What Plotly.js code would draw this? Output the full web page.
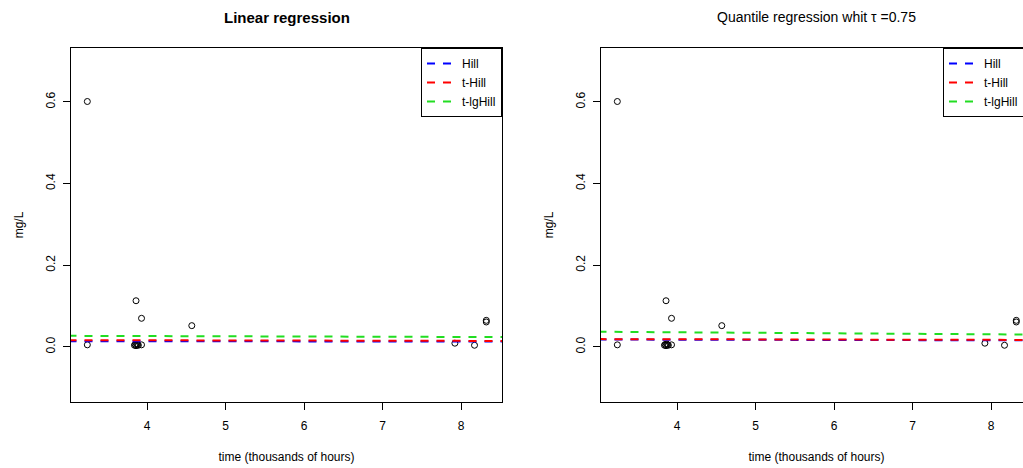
<!DOCTYPE html>
<html>
<head>
<meta charset="utf-8">
<script src="https://cdn.plot.ly/plotly-3.0.1.min.js"></script>
<style>
html, body { margin: 0; padding: 0; overflow: hidden; background: #fff; }
#chart { width: 1100px; height: 468px; }
</style>
</head>
<body>
<div id="chart"></div>
<script>
// Observations (time in thousands of hours, concentration mg/L)
const obsTime = [3.24, 3.24, 3.86, 3.93, 4.57, 3.84, 3.85, 3.86, 3.87, 3.88, 3.89, 3.93, 7.92, 8.17, 8.32, 8.32];
const obsConc = [0.601, 0.005, 0.113, 0.070, 0.052, 0.004, 0.006, 0.003, 0.007, 0.005, 0.004, 0.005, 0.009, 0.004, 0.065, 0.061];

// Fitted lines evaluated at the two ends of the time range
const fitX = [3.0, 8.6];
const linHill   = [0.014, 0.013];
const linTHill  = [0.0165, 0.0145];
const linTlgHill = [0.027, 0.024];
const qHill     = [0.018, 0.016];
const qTHill    = [0.019, 0.017];
const qTlgHill  = [0.037, 0.030];

const seriesNames = ['Hill', 't-Hill', 't-lgHill'];
const seriesColors = ['#0000ff', '#ff0000', '#22dd22'];

const xTicks = [4, 5, 6, 7, 8];
const yTicks = [0, 0.2, 0.4, 0.6];
const yTickText = ['0.0', '0.2', '0.4', '0.6'];

const FONT = 'Liberation Sans, Arial, sans-serif';

function lineTrace(y, i, xa, ya, leg) {
  return {
    x: fitX, y: y, xaxis: xa, yaxis: ya, mode: 'lines', type: 'scatter',
    name: seriesNames[i], legend: leg,
    line: { color: seriesColors[i], width: 2, dash: '8px,8px' },
    hoverinfo: 'skip'
  };
}
function pointsTrace(xa, ya) {
  return {
    x: obsTime, y: obsConc, xaxis: xa, yaxis: ya, mode: 'markers', type: 'scatter',
    showlegend: false,
    marker: { symbol: 'circle-open', size: 6, color: '#000', line: { width: 1, color: '#000' } }
  };
}

const traces = [
  pointsTrace('x', 'y'),
  lineTrace(linHill, 0, 'x', 'y', 'legend'),
  lineTrace(linTHill, 1, 'x', 'y', 'legend'),
  lineTrace(linTlgHill, 2, 'x', 'y', 'legend'),
  pointsTrace('x2', 'y2'),
  lineTrace(qHill, 0, 'x2', 'y2', 'legend2'),
  lineTrace(qTHill, 1, 'x2', 'y2', 'legend2'),
  lineTrace(qTlgHill, 2, 'x2', 'y2', 'legend2')
];

const W = 1100;
const mL = 71, mR = W - 1032;
const plotW = W - mL - mR;
const d1 = [0, 431 / plotW];
const d2 = [530 / plotW, 1];

function xAxis(domain, anchor) {
  return {
    domain: domain, anchor: anchor, range: [3.032, 8.52],
    tickmode: 'array', tickvals: xTicks, ticktext: xTicks.map(String),
    ticks: 'outside', ticklen: 7, tickcolor: '#000', tickwidth: 1, ticklabelstandoff: 6,
    showline: true, mirror: true, linecolor: '#000', linewidth: 1,
    showgrid: false, zeroline: false,
    tickfont: { family: FONT, size: 12, color: '#000' },
    title: { text: 'time (thousands of hours)', font: { family: FONT, size: 12, color: '#000' }, standoff: 20 }
  };
}
function yAxis(anchor) {
  return {
    anchor: anchor, range: [-0.135, 0.732], domain: [0, 1],
    tickmode: 'array', tickvals: yTicks, ticktext: yTickText, tickangle: -90,
    ticks: 'outside', ticklen: 7, tickcolor: '#000', tickwidth: 1, ticklabelstandoff: 3,
    showline: true, mirror: true, linecolor: '#000', linewidth: 1,
    showgrid: false, zeroline: false,
    tickfont: { family: FONT, size: 12, color: '#000' },
    title: { text: 'mg/L', font: { family: FONT, size: 12, color: '#000' }, standoff: 18 }
  };
}

const legendBase = {
  y: 1, yanchor: 'top', bgcolor: '#fff', bordercolor: '#000', borderwidth: 1,
  font: { family: FONT, size: 12, color: '#000' }, itemwidth: 30, tracegroupgap: 0
};

const layout = {
  width: W, height: 468,
  margin: { l: mL, r: mR, t: 48, b: 66, pad: 0 },
  paper_bgcolor: '#fff', plot_bgcolor: '#fff',
  font: { family: FONT, size: 12, color: '#000' },
  showlegend: true,
  xaxis: xAxis(d1, 'y'),
  yaxis: yAxis('x'),
  xaxis2: xAxis(d2, 'y2'),
  yaxis2: yAxis('x2'),
  legend: Object.assign({}, legendBase, { x: d1[1], xanchor: 'right' }),
  legend2: Object.assign({}, legendBase, { x: (943 - mL) / plotW, xanchor: 'left' }),
  annotations: [
    { text: '<b>Linear regression</b>', xref: 'paper', yref: 'paper', x: (d1[0] + d1[1]) / 2, y: 1,
      xanchor: 'center', yanchor: 'middle', yshift: 31, showarrow: false,
      font: { family: FONT, size: 15, color: '#000' } },
    { text: 'Quantile regression whit \u03c4 =0.75', xref: 'paper', yref: 'paper', x: (d2[0] + d2[1]) / 2, y: 1,
      xanchor: 'center', yanchor: 'middle', yshift: 31, showarrow: false,
      font: { family: FONT, size: 14, color: '#000' } }
  ]
};

Plotly.newPlot('chart', traces, layout, { displayModeBar: false, staticPlot: true });
</script>
</body>
</html>
